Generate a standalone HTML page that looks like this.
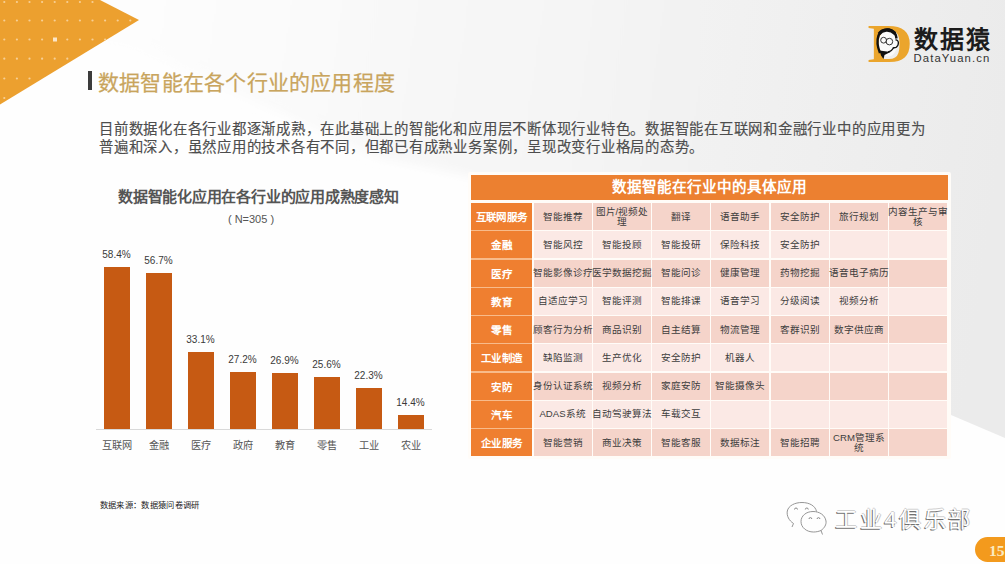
<!DOCTYPE html>
<html lang="zh-CN"><head><meta charset="utf-8">
<style>
html,body{margin:0;padding:0;}
body{width:1005px;height:564px;position:relative;overflow:hidden;font-family:"Liberation Sans",sans-serif;
background:#fefefe;}
.abs{position:absolute;}
.tri{position:absolute;left:0;top:0;width:140px;height:106px;}
.titlebar{position:absolute;left:88px;top:71px;width:4px;height:19px;background:#3c3c3c;}
.title{position:absolute;left:98px;top:68px;font-size:21px;letter-spacing:0.22px;line-height:30px;color:#c8a45d;-webkit-text-stroke:0.25px #cdab66;white-space:nowrap;}
.para{position:absolute;left:99px;top:120px;font-size:14.4px;letter-spacing:0.76px;line-height:18px;color:#4d4d4d;-webkit-text-stroke:0.15px #4d4d4d;white-space:nowrap;}
.ctitle{position:absolute;left:118px;top:185.5px;font-size:15px;letter-spacing:-0.22px;line-height:22px;font-weight:bold;color:#555;white-space:nowrap;}
.n{position:absolute;left:201px;top:212px;width:100px;text-align:center;font-size:11px;line-height:14px;color:#555;}
.bar{position:absolute;width:26px;background:#c65a13;}
.blab{position:absolute;width:56px;text-align:center;font-size:10px;line-height:14px;color:#3a3a3a;}
.cat{position:absolute;width:56px;text-align:center;font-size:10.2px;line-height:16px;color:#555;}
.axis{position:absolute;left:96px;top:429px;width:336px;height:1px;background:#d9d9d9;}
.thead{position:absolute;left:471px;top:175px;width:477px;height:25px;background:#ec8030;color:#fff;font-weight:bold;font-size:14.6px;line-height:25px;text-align:center;}
.rh{position:absolute;background:#ef7f30;color:#fff;font-weight:bold;font-size:10.5px;letter-spacing:0.4px;text-indent:0.4px;display:flex;align-items:center;justify-content:center;white-space:nowrap;}
.cell{position:absolute;color:#3d3d3d;font-size:9.6px;line-height:9.8px;display:flex;align-items:center;justify-content:center;text-align:center;white-space:nowrap;}
.odd{background:#f5d4ca;}
.even{background:#fbe9e5;}
.src{position:absolute;left:99.5px;top:499px;font-size:8.3px;letter-spacing:0.35px;line-height:12px;color:#222;white-space:nowrap;}
.wm{position:absolute;left:835px;top:504px;font-size:22px;letter-spacing:2.6px;line-height:32px;color:#fff;white-space:nowrap;text-shadow:-1px 1px 0 #707070,1px 0 0 #c8c8c8,0 -1px 0 #d0d0d0;}
.badge{position:absolute;left:975px;top:537px;width:50px;height:25px;border-radius:12.5px;background:#f39a1d;}
.pn{position:absolute;left:989px;top:541px;font-family:"Liberation Serif",serif;font-weight:bold;font-size:15.5px;line-height:20px;color:#fbeac0;}
</style></head><body>
<svg class="abs" style="left:0;top:0" width="1005" height="564" viewBox="0 0 1005 564">
  <defs>
    <linearGradient id="bg" gradientUnits="userSpaceOnUse" x1="150" y1="0" x2="1005" y2="120">
      <stop offset="0" stop-color="#fdfdfd"/>
      <stop offset="0.52" stop-color="#f4f4f4"/>
      <stop offset="1" stop-color="#ebebeb"/>
    </linearGradient>
    <filter id="bl" x="-5%" y="-5%" width="110%" height="110%"><feGaussianBlur stdDeviation="5"/></filter>
  </defs>
  <polygon points="-20,-20 800,-20 800,340 470,176 380,158 130,45 -20,15" fill="url(#bg)" filter="url(#bl)"/>
  <polygon points="700,-20 1005,-20 1005,438 951,415 700,295" fill="url(#bg)"/>
  <polygon points="0,0 100,0 139,20 0,104.5" fill="#eca02f"/>
  <circle cx="4.3" cy="2" r="1.1" fill="#f7cf95"/><circle cx="16.9" cy="2" r="1.1" fill="#f7cf95"/><circle cx="29.5" cy="2" r="1.1" fill="#f7cf95"/><circle cx="42.1" cy="2" r="1.1" fill="#f7cf95"/><circle cx="54.7" cy="2" r="1.1" fill="#f7cf95"/><circle cx="67.3" cy="2" r="1.1" fill="#f7cf95"/><circle cx="79.9" cy="2" r="1.1" fill="#f7cf95"/><circle cx="92.5" cy="2" r="1.1" fill="#f7cf95"/><circle cx="4.3" cy="20.5" r="1.1" fill="#f7cf95"/><circle cx="16.9" cy="20.5" r="1.1" fill="#f7cf95"/><circle cx="29.5" cy="20.5" r="1.1" fill="#f7cf95"/><circle cx="42.1" cy="20.5" r="1.1" fill="#f7cf95"/><circle cx="54.7" cy="20.5" r="1.1" fill="#f7cf95"/><circle cx="67.3" cy="20.5" r="1.1" fill="#f7cf95"/><circle cx="79.9" cy="20.5" r="1.1" fill="#f7cf95"/><circle cx="92.5" cy="20.5" r="1.1" fill="#f7cf95"/><circle cx="105.1" cy="20.5" r="1.1" fill="#f7cf95"/><circle cx="117.7" cy="20.5" r="1.1" fill="#f7cf95"/><circle cx="130.3" cy="20.5" r="1.1" fill="#f7cf95"/><circle cx="4.3" cy="39.5" r="1.1" fill="#f7cf95"/><circle cx="16.9" cy="39.5" r="1.1" fill="#f7cf95"/><circle cx="29.5" cy="39.5" r="1.1" fill="#f7cf95"/><circle cx="42.1" cy="39.5" r="1.1" fill="#f7cf95"/><circle cx="54.7" cy="39.5" r="1.1" fill="#f7cf95"/><circle cx="67.3" cy="39.5" r="1.1" fill="#f7cf95"/><circle cx="79.9" cy="39.5" r="1.1" fill="#f7cf95"/><circle cx="92.5" cy="39.5" r="1.1" fill="#f7cf95"/><circle cx="105.1" cy="39.5" r="1.1" fill="#f7cf95"/><circle cx="4.3" cy="58.7" r="1.1" fill="#f7cf95"/><circle cx="16.9" cy="58.7" r="1.1" fill="#f7cf95"/><circle cx="29.5" cy="58.7" r="1.1" fill="#f7cf95"/><circle cx="42.1" cy="58.7" r="1.1" fill="#f7cf95"/><circle cx="54.7" cy="58.7" r="1.1" fill="#f7cf95"/><circle cx="67.3" cy="58.7" r="1.1" fill="#f7cf95"/><circle cx="4.3" cy="78.5" r="1.1" fill="#f7cf95"/><circle cx="16.9" cy="78.5" r="1.1" fill="#f7cf95"/><circle cx="29.5" cy="78.5" r="1.1" fill="#f7cf95"/><circle cx="4.3" cy="98" r="1.1" fill="#f7cf95"/><rect x="53" y="37.5" width="4" height="4" fill="#fbe6c8"/>
</svg>
<div class="titlebar"></div>
<div class="title">数据智能在各个行业的应用程度</div>
<div class="para">目前数据化在各行业都逐渐成熟，在此基础上的智能化和应用层不断体现行业特色。数据智能在互联网和金融行业中的应用更为<br>普遍和深入，虽然应用的技术各有不同，但都已有成熟业务案例，呈现改变行业格局的态势。</div>
<div class="ctitle">数据智能化应用在各行业的应用成熟度感知</div>
<div class="n">( N=305 )</div>
<div class="bar" style="left:104px;top:267.0px;height:162.0px"></div><div class="blab" style="left:88.5px;top:248.0px">58.4%</div><div class="cat" style="left:89px;top:437.5px">互联网</div><div class="bar" style="left:146px;top:272.7px;height:156.3px"></div><div class="blab" style="left:130.5px;top:253.7px">56.7%</div><div class="cat" style="left:131px;top:437.5px">金融</div><div class="bar" style="left:188px;top:351.8px;height:77.2px"></div><div class="blab" style="left:172.5px;top:332.8px">33.1%</div><div class="cat" style="left:173px;top:437.5px">医疗</div><div class="bar" style="left:230px;top:371.6px;height:57.4px"></div><div class="blab" style="left:214.5px;top:352.6px">27.2%</div><div class="cat" style="left:215px;top:437.5px">政府</div><div class="bar" style="left:272px;top:372.6px;height:56.4px"></div><div class="blab" style="left:256.5px;top:353.6px">26.9%</div><div class="cat" style="left:257px;top:437.5px">教育</div><div class="bar" style="left:314px;top:377.0px;height:52.0px"></div><div class="blab" style="left:298.5px;top:358.0px">25.6%</div><div class="cat" style="left:299px;top:437.5px">零售</div><div class="bar" style="left:356px;top:388.1px;height:40.9px"></div><div class="blab" style="left:340.5px;top:369.1px">22.3%</div><div class="cat" style="left:341px;top:437.5px">工业</div><div class="bar" style="left:398px;top:414.6px;height:14.4px"></div><div class="blab" style="left:382.5px;top:395.6px">14.4%</div><div class="cat" style="left:383px;top:437.5px">农业</div>
<div class="axis"></div>
<div class="abs" style="left:468px;top:172px;width:483px;height:287px;background:#fffcf8;border-radius:2px;"></div>
<div class="abs" style="left:471px;top:203px;width:61px;height:253px;background:#f8bb8a;"></div>
<div class="thead">数据智能在行业中的具体应用</div>
<div class="rh" style="left:471px;top:203.00px;width:61px;height:27.05px">互联网服务</div><div class="cell odd" style="left:533.50px;top:203.00px;width:58.10px;height:27.05px">智能推荐</div><div class="cell odd" style="left:592.80px;top:203.00px;width:58.10px;height:27.05px">图片/视频处<br>理</div><div class="cell odd" style="left:652.10px;top:203.00px;width:58.10px;height:27.05px">翻译</div><div class="cell odd" style="left:711.40px;top:203.00px;width:58.10px;height:27.05px">语音助手</div><div class="cell odd" style="left:770.70px;top:203.00px;width:58.10px;height:27.05px">安全防护</div><div class="cell odd" style="left:830.00px;top:203.00px;width:58.10px;height:27.05px">旅行规划</div><div class="cell odd" style="left:889.30px;top:203.00px;width:58.10px;height:27.05px">内容生产与审<br>核</div><div class="rh" style="left:471px;top:231.25px;width:61px;height:27.05px">金融</div><div class="cell even" style="left:533.50px;top:231.25px;width:58.10px;height:27.05px">智能风控</div><div class="cell even" style="left:592.80px;top:231.25px;width:58.10px;height:27.05px">智能投顾</div><div class="cell even" style="left:652.10px;top:231.25px;width:58.10px;height:27.05px">智能投研</div><div class="cell even" style="left:711.40px;top:231.25px;width:58.10px;height:27.05px">保险科技</div><div class="cell even" style="left:770.70px;top:231.25px;width:58.10px;height:27.05px">安全防护</div><div class="cell even" style="left:830.00px;top:231.25px;width:58.10px;height:27.05px"></div><div class="cell even" style="left:889.30px;top:231.25px;width:58.10px;height:27.05px"></div><div class="rh" style="left:471px;top:259.50px;width:61px;height:27.05px">医疗</div><div class="cell odd" style="left:533.50px;top:259.50px;width:58.10px;height:27.05px">智能影像诊疗</div><div class="cell odd" style="left:592.80px;top:259.50px;width:58.10px;height:27.05px">医学数据挖掘</div><div class="cell odd" style="left:652.10px;top:259.50px;width:58.10px;height:27.05px">智能问诊</div><div class="cell odd" style="left:711.40px;top:259.50px;width:58.10px;height:27.05px">健康管理</div><div class="cell odd" style="left:770.70px;top:259.50px;width:58.10px;height:27.05px">药物挖掘</div><div class="cell odd" style="left:830.00px;top:259.50px;width:58.10px;height:27.05px">语音电子病历</div><div class="cell odd" style="left:889.30px;top:259.50px;width:58.10px;height:27.05px"></div><div class="rh" style="left:471px;top:287.75px;width:61px;height:27.05px">教育</div><div class="cell even" style="left:533.50px;top:287.75px;width:58.10px;height:27.05px">自适应学习</div><div class="cell even" style="left:592.80px;top:287.75px;width:58.10px;height:27.05px">智能评测</div><div class="cell even" style="left:652.10px;top:287.75px;width:58.10px;height:27.05px">智能排课</div><div class="cell even" style="left:711.40px;top:287.75px;width:58.10px;height:27.05px">语音学习</div><div class="cell even" style="left:770.70px;top:287.75px;width:58.10px;height:27.05px">分级阅读</div><div class="cell even" style="left:830.00px;top:287.75px;width:58.10px;height:27.05px">视频分析</div><div class="cell even" style="left:889.30px;top:287.75px;width:58.10px;height:27.05px"></div><div class="rh" style="left:471px;top:316.00px;width:61px;height:27.05px">零售</div><div class="cell odd" style="left:533.50px;top:316.00px;width:58.10px;height:27.05px">顾客行为分析</div><div class="cell odd" style="left:592.80px;top:316.00px;width:58.10px;height:27.05px">商品识别</div><div class="cell odd" style="left:652.10px;top:316.00px;width:58.10px;height:27.05px">自主结算</div><div class="cell odd" style="left:711.40px;top:316.00px;width:58.10px;height:27.05px">物流管理</div><div class="cell odd" style="left:770.70px;top:316.00px;width:58.10px;height:27.05px">客群识别</div><div class="cell odd" style="left:830.00px;top:316.00px;width:58.10px;height:27.05px">数字供应商</div><div class="cell odd" style="left:889.30px;top:316.00px;width:58.10px;height:27.05px"></div><div class="rh" style="left:471px;top:344.25px;width:61px;height:27.05px">工业制造</div><div class="cell even" style="left:533.50px;top:344.25px;width:58.10px;height:27.05px">缺陷监测</div><div class="cell even" style="left:592.80px;top:344.25px;width:58.10px;height:27.05px">生产优化</div><div class="cell even" style="left:652.10px;top:344.25px;width:58.10px;height:27.05px">安全防护</div><div class="cell even" style="left:711.40px;top:344.25px;width:58.10px;height:27.05px">机器人</div><div class="cell even" style="left:770.70px;top:344.25px;width:58.10px;height:27.05px"></div><div class="cell even" style="left:830.00px;top:344.25px;width:58.10px;height:27.05px"></div><div class="cell even" style="left:889.30px;top:344.25px;width:58.10px;height:27.05px"></div><div class="rh" style="left:471px;top:372.50px;width:61px;height:27.05px">安防</div><div class="cell odd" style="left:533.50px;top:372.50px;width:58.10px;height:27.05px">身份认证系统</div><div class="cell odd" style="left:592.80px;top:372.50px;width:58.10px;height:27.05px">视频分析</div><div class="cell odd" style="left:652.10px;top:372.50px;width:58.10px;height:27.05px">家庭安防</div><div class="cell odd" style="left:711.40px;top:372.50px;width:58.10px;height:27.05px">智能摄像头</div><div class="cell odd" style="left:770.70px;top:372.50px;width:58.10px;height:27.05px"></div><div class="cell odd" style="left:830.00px;top:372.50px;width:58.10px;height:27.05px"></div><div class="cell odd" style="left:889.30px;top:372.50px;width:58.10px;height:27.05px"></div><div class="rh" style="left:471px;top:400.75px;width:61px;height:27.05px">汽车</div><div class="cell even" style="left:533.50px;top:400.75px;width:58.10px;height:27.05px">ADAS系统</div><div class="cell even" style="left:592.80px;top:400.75px;width:58.10px;height:27.05px">自动驾驶算法</div><div class="cell even" style="left:652.10px;top:400.75px;width:58.10px;height:27.05px">车载交互</div><div class="cell even" style="left:711.40px;top:400.75px;width:58.10px;height:27.05px"></div><div class="cell even" style="left:770.70px;top:400.75px;width:58.10px;height:27.05px"></div><div class="cell even" style="left:830.00px;top:400.75px;width:58.10px;height:27.05px"></div><div class="cell even" style="left:889.30px;top:400.75px;width:58.10px;height:27.05px"></div><div class="rh" style="left:471px;top:429.00px;width:61px;height:27.05px">企业服务</div><div class="cell odd" style="left:533.50px;top:429.00px;width:58.10px;height:27.05px">智能营销</div><div class="cell odd" style="left:592.80px;top:429.00px;width:58.10px;height:27.05px">商业决策</div><div class="cell odd" style="left:652.10px;top:429.00px;width:58.10px;height:27.05px">智能客服</div><div class="cell odd" style="left:711.40px;top:429.00px;width:58.10px;height:27.05px">数据标注</div><div class="cell odd" style="left:770.70px;top:429.00px;width:58.10px;height:27.05px">智能招聘</div><div class="cell odd" style="left:830.00px;top:429.00px;width:58.10px;height:27.05px">CRM管理系<br>统</div><div class="cell odd" style="left:889.30px;top:429.00px;width:58.10px;height:27.05px"></div>
<svg class="abs" style="left:860px;top:15px" width="140" height="55" viewBox="860 15 140 55">
  <text x="0" y="62" transform="translate(867.5 0) scale(1.12 1)" font-family="Liberation Serif" font-weight="bold" font-size="56" fill="#eba52c">D</text>
  <ellipse cx="888" cy="43" rx="9.5" ry="13.5" fill="#fafafa"/>
  <path d="M880,53 C877.5,47 877,40 878.5,35.5 C880.5,30.5 885,29 889,29.5 C893.5,30.5 896,34 896.5,38.5" fill="none" stroke="#111" stroke-width="2.4"/>
  <path d="M879,34 C882,29.5 890,28.5 895,33.5" fill="none" stroke="#111" stroke-width="3.2"/>
  <circle cx="883.6" cy="40.2" r="2.9" fill="none" stroke="#333" stroke-width="1"/>
  <circle cx="889.4" cy="41.6" r="3.3" fill="none" stroke="#333" stroke-width="1"/>
  <path d="M895.5,40 C899,39.5 899.5,45 896,47.5 L893,48" fill="none" stroke="#111" stroke-width="1.3"/>
  <path d="M893.5,47.5 C892.5,50 891,51.5 888,52" fill="none" stroke="#111" stroke-width="1.3"/>
  <path d="M879.5,50.5 L890.5,52 L884.5,55 L883.5,59 L881,55.5 Z" fill="#111"/>
  <text x="913.5" y="48" font-family="Liberation Sans" font-weight="bold" font-size="24" letter-spacing="2.4" fill="#1c1c1c">数据猿</text>
  <text x="913.5" y="61.8" font-family="Liberation Sans" font-size="11.3" letter-spacing="1.1" fill="#333">DataYuan.cn</text>
</svg>
<svg class="abs" style="left:780px;top:498px" width="52" height="42" viewBox="780 498 52 42">
  <g fill="none" stroke="#8a8a8a" stroke-width="0.9">
    <path d="M792,527 L793.5,523.5 C789,520.5 786.5,516 787.3,511 C788.5,505.5 795,502.5 802,502.5 C809.5,502.5 815.5,506 816.5,511.5"/>
    <path d="M822.5,534.5 L821,530.5 C824.5,528 826.5,524.5 826,521 C825,515 819.5,511.5 813,511.5 C806,511.5 801,516 801,521.5 C801,527.5 806.5,532 813.5,532 C816,532 818.5,531.5 821,530.5"/>
  </g>
  <g fill="none" stroke="#8a8a8a" stroke-width="1"><path d="M794.5,509.5 a1.5,1.5 0 0 1 3,0"/><path d="M805.3,509.5 a1.5,1.5 0 0 1 3,0"/><path d="M809,519 a1.4,1.4 0 0 1 2.8,0"/><path d="M817.1,519 a1.4,1.4 0 0 1 2.8,0"/></g>
</svg>
<div class="src">数据来源：数据猿问卷调研</div>
<div class="wm">工业4俱乐部</div>
<div class="badge"></div>
<div class="pn">15</div>
</body></html>
